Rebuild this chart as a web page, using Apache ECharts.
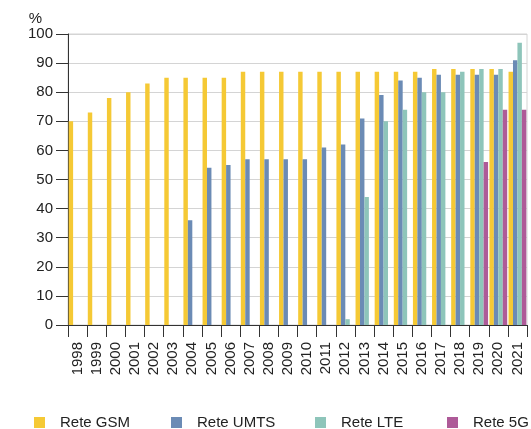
<!DOCTYPE html>
<html>
<head>
<meta charset="utf-8">
<script src="https://cdn.jsdelivr.net/npm/echarts@6/dist/echarts.min.js"></script>
<style>
  html, body { margin: 0; padding: 0; background: #fff; }
  #chart { width: 531px; height: 429px; }
</style>
</head>
<body>
<div id="chart"></div>
<script>
// Network coverage by technology, % per year
const years = ['1998','1999','2000','2001','2002','2003','2004','2005','2006','2007','2008','2009',
               '2010','2011','2012','2013','2014','2015','2016','2017','2018','2019','2020','2021'];
const gsm  = [70, 73, 78, 80, 83, 85, 85, 85, 85, 87, 87, 87, 87, 87, 87, 87, 87, 87, 87, 88, 88, 88, 88, 87];
const umts = [null, null, null, null, null, null, 36, 54, 55, 57, 57, 57, 57, 61, 62, 71, 79, 84, 85, 86, 86, 86, 86, 91];
const lte  = [null, null, null, null, null, null, null, null, null, null, null, null, null, null, 2, 44, 70, 74, 80, 80, 87, 88, 88, 97];
const g5   = [null, null, null, null, null, null, null, null, null, null, null, null, null, null, null, null, null, null, null, null, null, 56, 74, 74];
const seriesNames = ['Rete GSM', 'Rete UMTS', 'Rete LTE', 'Rete 5G'];
const colors = ['#F5C935', '#6B8BB5', '#8EC5BA', '#AE5A98'];
const yTicks = { min: 0, max: 100, interval: 10 };

const FONT = '"Liberation Sans", Arial, sans-serif';
const TXT = { fontFamily: FONT, fontSize: 15, color: '#222' };
const chart = echarts.init(document.getElementById('chart'), null, { renderer: 'canvas' });

const legendLeft = [29, 166, 310, 442];
const values = [gsm, umts, lte, g5];

chart.setOption({
  animation: false,
  color: colors,
  grid: {
    left: 68, right: 4, top: 34, bottom: 104,
    show: true, borderColor: '#d4d4d4', borderWidth: 1
  },
  legend: seriesNames.map((n, i) => ({
    data: [n],
    left: legendLeft[i],
    top: 410,
    icon: 'rect',
    itemWidth: 11,
    itemHeight: 11,
    itemGap: 0,
    textStyle: Object.assign({}, TXT, { padding: [0, 0, 0, 10] })
  })),
  xAxis: {
    type: 'category',
    data: years,
    boundaryGap: true,
    axisLine: { lineStyle: { color: '#333', width: 1 } },
    axisTick: { show: true, length: 12, interval: 0, lineStyle: { color: '#333' } },
    axisLabel: Object.assign({ rotate: 90, interval: 0, margin: 17 }, TXT),
    splitLine: { show: false }
  },
  yAxis: {
    type: 'value',
    min: yTicks.min, max: yTicks.max, interval: yTicks.interval,
    name: '%',
    nameLocation: 'end',
    nameGap: 7,
    nameTextStyle: Object.assign({}, TXT, { align: 'right', padding: [0, 26, 0, 0] }),
    axisLine: { show: true, lineStyle: { color: '#333', width: 1 } },
    axisTick: { show: true, length: 12, lineStyle: { color: '#333' } },
    axisLabel: Object.assign({ margin: 15 }, TXT),
    splitLine: { lineStyle: { color: '#d4d4d4', width: 1 } }
  },
  series: seriesNames.map((n, i) => ({
    name: n,
    type: 'bar',
    data: values[i],
    barGap: '0%',
    barCategoryGap: '7%',
    itemStyle: { color: colors[i] }
  }))
});
</script>
</body>
</html>
